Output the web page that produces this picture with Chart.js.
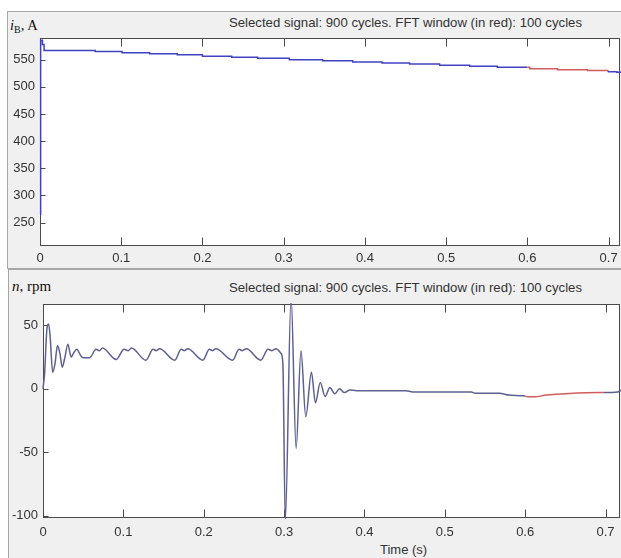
<!DOCTYPE html>
<html><head><meta charset="utf-8">
<script src="https://cdn.jsdelivr.net/npm/chart.js@4"></script>
<style>
body{margin:0;width:621px;height:558px;overflow:hidden;background:#fff;position:relative;font-family:"Liberation Sans",Arial,sans-serif}
.panel{position:absolute;width:660px;background:#f0f0f0;border:1px solid #a6a6a6;box-sizing:border-box}
.hdr{position:absolute;font-family:"Liberation Serif","Times New Roman",serif;color:#111;white-space:nowrap;line-height:18px}
.sel{position:absolute;font-size:13.2px;line-height:16px;color:#333;white-space:nowrap;right:39px}
.xt{position:absolute;font-size:13px;line-height:16px;color:#333;white-space:nowrap}
canvas{position:absolute}
</style></head>
<body>
<div class="panel" style="left:7px;top:11px;height:258px"></div>
<div class="panel" style="left:8px;top:269px;height:300px"></div>

<div class="hdr" style="left:10px;top:16px;font-size:14.5px"><i>i</i><span style="font-size:10px;position:relative;top:3px">B</span>, A</div>
<div class="sel" style="top:15px">Selected signal: 900 cycles. FFT window (in red): 100 cycles</div>
<div class="hdr" style="left:12px;top:277px;font-size:15px"><i>n</i>, rpm</div>
<div class="sel" style="top:280px">Selected signal: 900 cycles. FFT window (in red): 100 cycles</div>
<div class="xt" style="left:380px;top:542px">Time (s)</div>

<canvas id="c1" width="614" height="255" style="left:7px;top:12px"></canvas>
<canvas id="c2" width="613" height="288" style="left:8px;top:270px"></canvas>

<script>
// ---- data ----
const xTicks = [0, 0.1, 0.2, 0.3, 0.4, 0.5, 0.6, 0.7];
const xTickLabels = ['0', '0.1', '0.2', '0.3', '0.4', '0.5', '0.6', '0.7'];
const currentTicks = [250, 300, 350, 400, 450, 500, 550];
const speedTicks = [-100, -50, 0, 50];

const currentTime = [0, 0.0008, 0.003, 0.005, 0.068, 0.101, 0.135, 0.169, 0.2, 0.236, 0.268, 0.307, 0.348, 0.385, 0.421, 0.455, 0.492, 0.529, 0.563, 0.6, 0.603, 0.637, 0.674, 0.699, 0.7, 0.71, 0.72];
const currentVals = [265, 586, 578, 567, 565, 563, 561, 559, 556.5, 554.5, 552.5, 550, 548, 546, 544, 542, 540, 538, 536, 536, 533.5, 531.5, 530, 528, 528, 527, 527];

const speedTime = [0, 0.002, 0.005, 0.007, 0.009, 0.012, 0.015, 0.018, 0.021, 0.024, 0.027, 0.031, 0.035, 0.038, 0.042, 0.047, 0.050, 0.058, 0.066, 0.070, 0.074, 0.091, 0.101, 0.106, 0.110, 0.128, 0.137, 0.141, 0.145, 0.164, 0.172, 0.176, 0.180, 0.199, 0.207, 0.211, 0.215, 0.236, 0.244, 0.248, 0.253, 0.271, 0.280, 0.285, 0.290, 0.296, 0.2985, 0.3015, 0.3087, 0.315, 0.321, 0.327, 0.334, 0.339, 0.345, 0.351, 0.357, 0.363, 0.369, 0.375, 0.382, 0.390, 0.452, 0.460, 0.533, 0.538, 0.568, 0.580, 0.598, 0.600, 0.603, 0.612, 0.626, 0.655, 0.692, 0.698, 0.715, 0.720];
const speedVals = [0, 12, 48, 51, 40, 13, 20, 34, 28, 17, 24, 35, 25, 28, 31, 26, 24.5, 24.5, 31, 30, 32, 23, 31, 30, 32, 22.5, 31, 30, 31.5, 22.5, 31, 30, 31.5, 22.5, 31, 30, 31.5, 22.5, 31, 30, 31.5, 22.5, 31, 30, 31.5, 28, 20, -104, 72, -47, 30, -22, 13, -11, 5, -6, 1, -4, 0, -3, -1, -1.5, -1.5, -2.5, -2.5, -3.5, -3.5, -5, -5.5, -5.8, -6.3, -6.3, -5, -3.7, -3, -3, -2.5, -1];

const FFT_START = 0.6, FFT_END = 0.698;
const BLUE = '#4141c4', RED = '#d25c5c', GRAYBLUE = '#5d6090';

// ---- helpers ----
const tickFont = {family: '"Liberation Sans", Arial, sans-serif', size: 13};
const matlabAxes = {
  id: 'matlabAxes',
  beforeDatasetsDraw(chart) {
    const a = chart.chartArea, c = chart.ctx;
    c.save();
    c.fillStyle = '#ffffff';
    c.fillRect(a.left, a.top, a.right - a.left, a.bottom - a.top);
    c.strokeStyle = '#4a4a4a';
    c.lineWidth = 1;
    const L = Math.round(a.left) + 0.5, R = Math.round(a.right) - 0.5, T = Math.round(a.top) + 0.5, B = Math.round(a.bottom) - 0.5;
    c.strokeRect(L, T, R - L, B - T);
    c.beginPath();
    chart.scales.x.ticks.forEach(t => {
      const px = Math.round(chart.scales.x.getPixelForValue(t.value)) + 0.5;
      c.moveTo(px, B); c.lineTo(px, B - 8);
      c.moveTo(px, T); c.lineTo(px, T + 8);
    });
    chart.scales.y.ticks.forEach(t => {
      const py = Math.round(chart.scales.y.getPixelForValue(t.value)) + 0.5;
      c.moveTo(L, py); c.lineTo(L + 5, py);
    });
    c.stroke();
    c.restore();
  }
};

function makeChart(id, times, vals, yTicks, yMin, yMax, xMax, opts) {
  const data = times.map((t, i) => ({x: t, y: vals[i]}));
  return new Chart(document.getElementById(id), {
    type: 'line',
    data: {datasets: [{
      data,
      borderColor: opts.color,
      borderWidth: 1.5,
      pointRadius: 0,
      stepped: opts.stepped,
      cubicInterpolationMode: opts.stepped ? 'default' : 'monotone',
      clip: 1,
      segment: {borderColor: ctx => (ctx.p0.parsed.x >= FFT_START - 1e-9 && ctx.p0.parsed.x < FFT_END) ? RED : opts.color}
    }]},
    options: {
      responsive: false,
      animation: false,
      events: [],
      layout: {padding: opts.padding},
      plugins: {legend: {display: false}, tooltip: {enabled: false}},
      scales: {
        x: {
          type: 'linear', min: 0, max: xMax,
          grid: {display: false, drawTicks: false}, border: {display: false},
          afterBuildTicks: s => { s.ticks = xTicks.map(v => ({value: v})); },
          afterFit: s => { s.height = opts.xHeight; s.paddingLeft = 0; s.paddingRight = 0; },
          ticks: {font: tickFont, color: '#333', padding: opts.xPad, maxRotation: 0, autoSkip: false,
            callback: (v, i) => xTickLabels[i]}
        },
        y: {
          type: 'linear', min: yMin, max: yMax,
          grid: {display: false, drawTicks: false}, border: {display: false},
          afterBuildTicks: s => { s.ticks = yTicks.map(v => ({value: v})); },
          afterFit: s => { s.width = opts.yWidth; s.paddingTop = 0; s.paddingBottom = 0; },
          ticks: {font: tickFont, color: '#333', padding: 5, autoSkip: false,
            callback: v => String(v)}
        }
      }
    },
    plugins: [matlabAxes]
  });
}

makeChart('c1', currentTime, currentVals, currentTicks, 207, 590, 0.714,
  {color: BLUE, stepped: true, padding: {top: 26, right: 1, left: 0, bottom: 0}, xHeight: 21, yWidth: 33, xPad: 5});
makeChart('c2', speedTime, speedVals, speedTicks, -101.7, 66.7, 0.718,
  {color: GRAYBLUE, stepped: false, padding: {top: 34, right: 1, left: 0, bottom: 0}, xHeight: 40, yWidth: 35, xPad: 7});
</script>
</body></html>
